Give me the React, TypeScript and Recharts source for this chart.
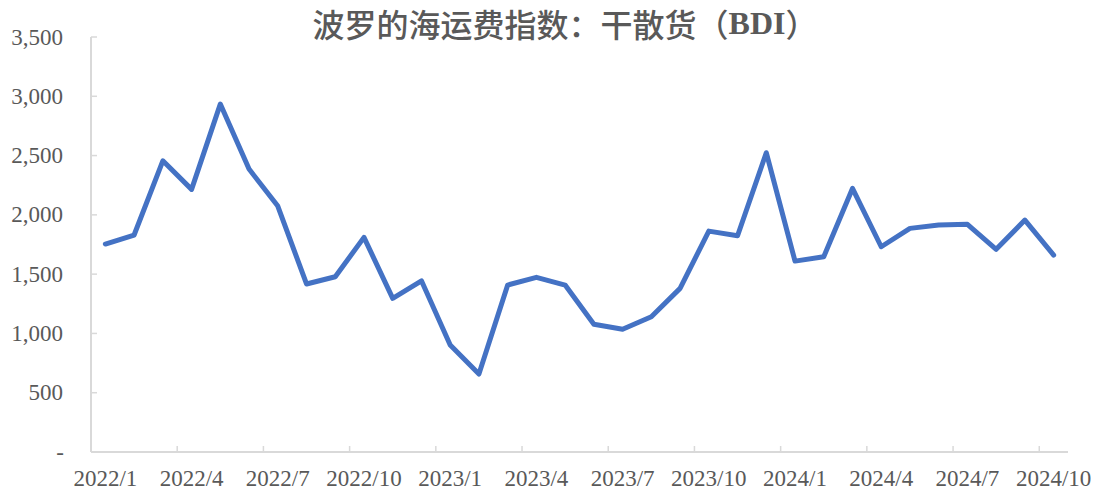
import React from "react";
import { LineChart, Line, XAxis, YAxis } from "recharts";

const months = [
  "2022/1", "2022/2", "2022/3", "2022/4", "2022/5", "2022/6", "2022/7", "2022/8", "2022/9", "2022/10", "2022/11", "2022/12",
  "2023/1", "2023/2", "2023/3", "2023/4", "2023/5", "2023/6", "2023/7", "2023/8", "2023/9", "2023/10", "2023/11", "2023/12",
  "2024/1", "2024/2", "2024/3", "2024/4", "2024/5", "2024/6", "2024/7", "2024/8", "2024/9", "2024/10",
];

const bdi = [
  1754, 1830, 2456, 2215, 2934, 2386, 2074, 1417, 1478, 1810, 1296, 1444,
  902, 658, 1408, 1473, 1408, 1077, 1035, 1141, 1380, 1863, 1824, 2524,
  1610, 1647, 2223, 1731, 1886, 1914, 1920, 1709, 1956, 1661,
];

const yTicks = [0, 500, 1000, 1500, 2000, 2500, 3000, 3500];

const data = months.map((m, i) => ({ month: m, bdi: bdi[i] }));

// layout (chart coords, chart sits at page 8,8)
const W = 1091;
const H = 486;
const PLOT_LEFT = 83;
const PLOT_RIGHT = 1060;
const PLOT_TOP = 29;
const PLOT_BOTTOM = 444;
const STEP = (PLOT_RIGHT - PLOT_LEFT) / months.length;
const AXIS_COLOR = "#d9d9d9";
const TEXT_COLOR = "#595959";
const FONT = '"Liberation Serif", "Times New Roman", serif';
const CJK = '"Noto Sans CJK SC", sans-serif';

const XTick = (props: any) => {
  const { x, index, payload } = props;
  const bx = x - STEP / 2;
  return (
    <g>
      {index > 0 && (
        <line x1={bx} x2={bx} y1={PLOT_BOTTOM} y2={PLOT_BOTTOM - 6} stroke={AXIS_COLOR} strokeWidth={1.5} />
      )}
      <text x={x} y={470} textAnchor="middle" dominantBaseline="central" fill={TEXT_COLOR} fontSize={23} fontFamily={FONT}>
        {payload.value}
      </text>
    </g>
  );
};

const YTick = (props: any) => {
  const { y, payload } = props;
  const v = payload.value;
  return (
    <g>
      {v > 0 && (
        <line x1={PLOT_LEFT} x2={PLOT_LEFT + 6} y1={y} y2={y} stroke={AXIS_COLOR} strokeWidth={1.5} />
      )}
      <text x={v === 0 ? 56 : 55} y={y} textAnchor="end" dominantBaseline="central" fill={TEXT_COLOR} fontSize={23} fontFamily={FONT}>
        {v === 0 ? "-" : v.toLocaleString("en-US")}
      </text>
    </g>
  );
};

export default function App() {
  return (
    <div style={{ width: W, height: H, position: "relative", background: "#fff" }}>
      <LineChart
        width={W}
        height={H}
        data={data}
        margin={{ top: PLOT_TOP, right: W - PLOT_RIGHT, bottom: H - PLOT_BOTTOM - 35, left: PLOT_LEFT - 70 }}
      >
        <text x={557} y={15} textAnchor="middle" dominantBaseline="central" fill={TEXT_COLOR} fontSize={32}>
          <tspan fontFamily={CJK} fontWeight={500}>波罗的海运费指数：干散货（</tspan>
          <tspan fontFamily={FONT} fontWeight="bold">BDI</tspan>
          <tspan fontFamily={CJK} fontWeight={500}>）</tspan>
        </text>
        <XAxis
          dataKey="month"
          height={35}
          interval={2}
          padding={{ left: STEP / 2, right: STEP / 2 }}
          tickLine={false}
          axisLine={{ stroke: AXIS_COLOR, strokeWidth: 2 }}
          tick={<XTick />}
        />
        <YAxis
          width={70}
          domain={[0, 3500]}
          ticks={yTicks}
          tickLine={false}
          axisLine={{ stroke: AXIS_COLOR, strokeWidth: 2 }}
          tick={<YTick />}
        />
        <Line
          type="linear"
          dataKey="bdi"
          stroke="#4472C4"
          strokeWidth={5}
          strokeLinecap="round"
          strokeLinejoin="round"
          dot={false}
          activeDot={false}
          isAnimationActive={false}
        />
      </LineChart>
    </div>
  );
}
